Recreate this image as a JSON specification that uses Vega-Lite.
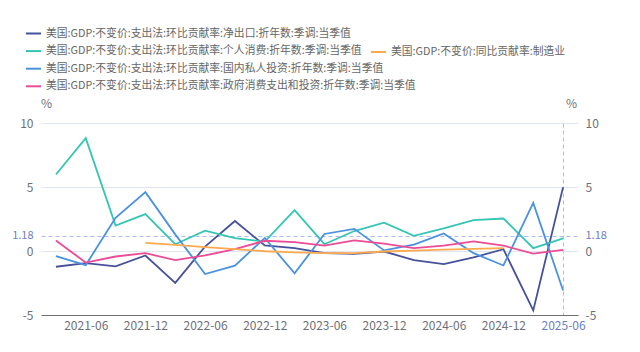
{
  "$schema": "https://vega.github.io/schema/vega-lite/v6.json",
  "width": 537,
  "height": 192,
  "autosize": "none",
  "padding": {"left": 41, "top": 123, "right": 62, "bottom": 37},
  "background": "white",
  "config": {
    "view": {"stroke": null},
    "font": "Noto Sans CJK SC",
    "axis": {"labelFont": "Noto Sans CJK SC", "titleFont": "Noto Sans CJK SC"},
    "legend": {"labelFont": "Noto Sans CJK SC"}
  },
  "data": {
    "values": [
      {"date": "2021-03", "series": "美国:GDP:不变价:支出法:环比贡献率:净出口:折年数:季调:当季值", "value": -1.23},
      {"date": "2021-06", "series": "美国:GDP:不变价:支出法:环比贡献率:净出口:折年数:季调:当季值", "value": -0.94},
      {"date": "2021-09", "series": "美国:GDP:不变价:支出法:环比贡献率:净出口:折年数:季调:当季值", "value": -1.2},
      {"date": "2021-12", "series": "美国:GDP:不变价:支出法:环比贡献率:净出口:折年数:季调:当季值", "value": -0.35},
      {"date": "2022-03", "series": "美国:GDP:不变价:支出法:环比贡献率:净出口:折年数:季调:当季值", "value": -2.49},
      {"date": "2022-06", "series": "美国:GDP:不变价:支出法:环比贡献率:净出口:折年数:季调:当季值", "value": 0.35},
      {"date": "2022-09", "series": "美国:GDP:不变价:支出法:环比贡献率:净出口:折年数:季调:当季值", "value": 2.34},
      {"date": "2022-12", "series": "美国:GDP:不变价:支出法:环比贡献率:净出口:折年数:季调:当季值", "value": 0.43},
      {"date": "2023-03", "series": "美国:GDP:不变价:支出法:环比贡献率:净出口:折年数:季调:当季值", "value": 0.22},
      {"date": "2023-06", "series": "美国:GDP:不变价:支出法:环比贡献率:净出口:折年数:季调:当季值", "value": -0.17},
      {"date": "2023-09", "series": "美国:GDP:不变价:支出法:环比贡献率:净出口:折年数:季调:当季值", "value": -0.22},
      {"date": "2023-12", "series": "美国:GDP:不变价:支出法:环比贡献率:净出口:折年数:季调:当季值", "value": -0.04},
      {"date": "2024-03", "series": "美国:GDP:不变价:支出法:环比贡献率:净出口:折年数:季调:当季值", "value": -0.71},
      {"date": "2024-06", "series": "美国:GDP:不变价:支出法:环比贡献率:净出口:折年数:季调:当季值", "value": -1.02},
      {"date": "2024-09", "series": "美国:GDP:不变价:支出法:环比贡献率:净出口:折年数:季调:当季值", "value": -0.5},
      {"date": "2024-12", "series": "美国:GDP:不变价:支出法:环比贡献率:净出口:折年数:季调:当季值", "value": 0.14},
      {"date": "2025-03", "series": "美国:GDP:不变价:支出法:环比贡献率:净出口:折年数:季调:当季值", "value": -4.64},
      {"date": "2025-06", "series": "美国:GDP:不变价:支出法:环比贡献率:净出口:折年数:季调:当季值", "value": 4.99},
      {"date": "2021-03", "series": "美国:GDP:不变价:支出法:环比贡献率:个人消费:折年数:季调:当季值", "value": 5.98},
      {"date": "2021-06", "series": "美国:GDP:不变价:支出法:环比贡献率:个人消费:折年数:季调:当季值", "value": 8.82},
      {"date": "2021-09", "series": "美国:GDP:不变价:支出法:环比贡献率:个人消费:折年数:季调:当季值", "value": 1.98},
      {"date": "2021-12", "series": "美国:GDP:不变价:支出法:环比贡献率:个人消费:折年数:季调:当季值", "value": 2.88},
      {"date": "2022-03", "series": "美国:GDP:不变价:支出法:环比贡献率:个人消费:折年数:季调:当季值", "value": 0.53},
      {"date": "2022-06", "series": "美国:GDP:不变价:支出法:环比贡献率:个人消费:折年数:季调:当季值", "value": 1.59},
      {"date": "2022-09", "series": "美国:GDP:不变价:支出法:环比贡献率:个人消费:折年数:季调:当季值", "value": 1.0},
      {"date": "2022-12", "series": "美国:GDP:不变价:支出法:环比贡献率:个人消费:折年数:季调:当季值", "value": 0.74},
      {"date": "2023-03", "series": "美国:GDP:不变价:支出法:环比贡献率:个人消费:折年数:季调:当季值", "value": 3.19},
      {"date": "2023-06", "series": "美国:GDP:不变价:支出法:环比贡献率:个人消费:折年数:季调:当季值", "value": 0.53},
      {"date": "2023-09", "series": "美国:GDP:不变价:支出法:环比贡献率:个人消费:折年数:季调:当季值", "value": 1.56},
      {"date": "2023-12", "series": "美国:GDP:不变价:支出法:环比贡献率:个人消费:折年数:季调:当季值", "value": 2.21},
      {"date": "2024-03", "series": "美国:GDP:不变价:支出法:环比贡献率:个人消费:折年数:季调:当季值", "value": 1.18},
      {"date": "2024-06", "series": "美国:GDP:不变价:支出法:环比贡献率:个人消费:折年数:季调:当季值", "value": 1.77},
      {"date": "2024-09", "series": "美国:GDP:不变价:支出法:环比贡献率:个人消费:折年数:季调:当季值", "value": 2.42},
      {"date": "2024-12", "series": "美国:GDP:不变价:支出法:环比贡献率:个人消费:折年数:季调:当季值", "value": 2.54},
      {"date": "2025-03", "series": "美国:GDP:不变价:支出法:环比贡献率:个人消费:折年数:季调:当季值", "value": 0.22},
      {"date": "2025-06", "series": "美国:GDP:不变价:支出法:环比贡献率:个人消费:折年数:季调:当季值", "value": 0.98},
      {"date": "2021-03", "series": "美国:GDP:不变价:支出法:环比贡献率:国内私人投资:折年数:季调:当季值", "value": -0.4},
      {"date": "2021-06", "series": "美国:GDP:不变价:支出法:环比贡献率:国内私人投资:折年数:季调:当季值", "value": -1.1},
      {"date": "2021-09", "series": "美国:GDP:不变价:支出法:环比贡献率:国内私人投资:折年数:季调:当季值", "value": 2.6},
      {"date": "2021-12", "series": "美国:GDP:不变价:支出法:环比贡献率:国内私人投资:折年数:季调:当季值", "value": 4.6},
      {"date": "2022-03", "series": "美国:GDP:不变价:支出法:环比贡献率:国内私人投资:折年数:季调:当季值", "value": 1.3},
      {"date": "2022-06", "series": "美国:GDP:不变价:支出法:环比贡献率:国内私人投资:折年数:季调:当季值", "value": -1.8},
      {"date": "2022-09", "series": "美国:GDP:不变价:支出法:环比贡献率:国内私人投资:折年数:季调:当季值", "value": -1.15},
      {"date": "2022-12", "series": "美国:GDP:不变价:支出法:环比贡献率:国内私人投资:折年数:季调:当季值", "value": 1.02},
      {"date": "2023-03", "series": "美国:GDP:不变价:支出法:环比贡献率:国内私人投资:折年数:季调:当季值", "value": -1.75},
      {"date": "2023-06", "series": "美国:GDP:不变价:支出法:环比贡献率:国内私人投资:折年数:季调:当季值", "value": 1.33},
      {"date": "2023-09", "series": "美国:GDP:不变价:支出法:环比贡献率:国内私人投资:折年数:季调:当季值", "value": 1.73},
      {"date": "2023-12", "series": "美国:GDP:不变价:支出法:环比贡献率:国内私人投资:折年数:季调:当季值", "value": 0.05},
      {"date": "2024-03", "series": "美国:GDP:不变价:支出法:环比贡献率:国内私人投资:折年数:季调:当季值", "value": 0.5},
      {"date": "2024-06", "series": "美国:GDP:不变价:支出法:环比贡献率:国内私人投资:折年数:季调:当季值", "value": 1.37},
      {"date": "2024-09", "series": "美国:GDP:不变价:支出法:环比贡献率:国内私人投资:折年数:季调:当季值", "value": -0.17},
      {"date": "2024-12", "series": "美国:GDP:不变价:支出法:环比贡献率:国内私人投资:折年数:季调:当季值", "value": -1.13},
      {"date": "2025-03", "series": "美国:GDP:不变价:支出法:环比贡献率:国内私人投资:折年数:季调:当季值", "value": 3.76},
      {"date": "2025-06", "series": "美国:GDP:不变价:支出法:环比贡献率:国内私人投资:折年数:季调:当季值", "value": -3.09},
      {"date": "2021-03", "series": "美国:GDP:不变价:支出法:环比贡献率:政府消费支出和投资:折年数:季调:当季值", "value": 0.82},
      {"date": "2021-06", "series": "美国:GDP:不变价:支出法:环比贡献率:政府消费支出和投资:折年数:季调:当季值", "value": -0.9},
      {"date": "2021-09", "series": "美国:GDP:不变价:支出法:环比贡献率:政府消费支出和投资:折年数:季调:当季值", "value": -0.43},
      {"date": "2021-12", "series": "美国:GDP:不变价:支出法:环比贡献率:政府消费支出和投资:折年数:季调:当季值", "value": -0.17},
      {"date": "2022-03", "series": "美国:GDP:不变价:支出法:环比贡献率:政府消费支出和投资:折年数:季调:当季值", "value": -0.71},
      {"date": "2022-06", "series": "美国:GDP:不变价:支出法:环比贡献率:政府消费支出和投资:折年数:季调:当季值", "value": -0.35},
      {"date": "2022-09", "series": "美国:GDP:不变价:支出法:环比贡献率:政府消费支出和投资:折年数:季调:当季值", "value": 0.14},
      {"date": "2022-12", "series": "美国:GDP:不变价:支出法:环比贡献率:政府消费支出和投资:折年数:季调:当季值", "value": 0.8},
      {"date": "2023-03", "series": "美国:GDP:不变价:支出法:环比贡献率:政府消费支出和投资:折年数:季调:当季值", "value": 0.7},
      {"date": "2023-06", "series": "美国:GDP:不变价:支出法:环比贡献率:政府消费支出和投资:折年数:季调:当季值", "value": 0.42},
      {"date": "2023-09", "series": "美国:GDP:不变价:支出法:环比贡献率:政府消费支出和投资:折年数:季调:当季值", "value": 0.83},
      {"date": "2023-12", "series": "美国:GDP:不变价:支出法:环比贡献率:政府消费支出和投资:折年数:季调:当季值", "value": 0.57},
      {"date": "2024-03", "series": "美国:GDP:不变价:支出法:环比贡献率:政府消费支出和投资:折年数:季调:当季值", "value": 0.23},
      {"date": "2024-06", "series": "美国:GDP:不变价:支出法:环比贡献率:政府消费支出和投资:折年数:季调:当季值", "value": 0.42},
      {"date": "2024-09", "series": "美国:GDP:不变价:支出法:环比贡献率:政府消费支出和投资:折年数:季调:当季值", "value": 0.75},
      {"date": "2024-12", "series": "美国:GDP:不变价:支出法:环比贡献率:政府消费支出和投资:折年数:季调:当季值", "value": 0.42},
      {"date": "2025-03", "series": "美国:GDP:不变价:支出法:环比贡献率:政府消费支出和投资:折年数:季调:当季值", "value": -0.2},
      {"date": "2025-06", "series": "美国:GDP:不变价:支出法:环比贡献率:政府消费支出和投资:折年数:季调:当季值", "value": 0.08},
      {"date": "2021-12", "series": "美国:GDP:不变价:同比贡献率:制造业", "value": 0.64},
      {"date": "2022-03", "series": "美国:GDP:不变价:同比贡献率:制造业", "value": 0.48},
      {"date": "2022-06", "series": "美国:GDP:不变价:同比贡献率:制造业", "value": 0.3},
      {"date": "2022-09", "series": "美国:GDP:不变价:同比贡献率:制造业", "value": 0.15},
      {"date": "2022-12", "series": "美国:GDP:不变价:同比贡献率:制造业", "value": -0.02},
      {"date": "2023-03", "series": "美国:GDP:不变价:同比贡献率:制造业", "value": -0.1},
      {"date": "2023-06", "series": "美国:GDP:不变价:同比贡献率:制造业", "value": -0.17},
      {"date": "2023-09", "series": "美国:GDP:不变价:同比贡献率:制造业", "value": -0.17},
      {"date": "2023-12", "series": "美国:GDP:不变价:同比贡献率:制造业", "value": -0.04},
      {"date": "2024-03", "series": "美国:GDP:不变价:同比贡献率:制造业", "value": 0.03},
      {"date": "2024-06", "series": "美国:GDP:不变价:同比贡献率:制造业", "value": 0.1},
      {"date": "2024-09", "series": "美国:GDP:不变价:同比贡献率:制造业", "value": 0.16},
      {"date": "2024-12", "series": "美国:GDP:不变价:同比贡献率:制造业", "value": 0.22}
    ]
  },
  "encoding": {
    "x": {
      "field": "date",
      "type": "ordinal",
      "sort": null,
      "scale": {"domain": ["2021-03","2021-06","2021-09","2021-12","2022-03","2022-06","2022-09","2022-12","2023-03","2023-06","2023-09","2023-12","2024-03","2024-06","2024-09","2024-12","2025-03","2025-06"]},
      "axis": {
        "title": null,
        "labelAngle": 0,
        "labelExpr": "(indexof(datum.value, '-06') > 0 || indexof(datum.value, '-12') > 0) ? datum.value : ''",
        "labelOverlap": false,
        "labelFontSize": 12,
        "labelPadding": 5,
        "labelColor": {"condition": {"test": "datum.value === '2025-06'", "value": "#6a7ec8"}, "value": "#6E7079"},
        "ticks": false,
        "domain": true,
        "domainColor": "#6E7079",
        "grid": true,
        "gridColor": {"condition": {"test": "datum.value === '2025-06'", "value": "#aabdf3"}, "value": "transparent"},
        "gridDash": [4, 3]
      }
    }
  },
  "layer": [
    {
      "transform": [{"filter": "datum.series !== '美国:GDP:不变价:同比贡献率:制造业'"}],
      "mark": {"type": "line", "strokeWidth": 1.8},
      "encoding": {
        "y": {
          "field": "value",
          "type": "quantitative",
          "scale": {"domain": [-5, 10], "nice": false, "zero": false},
          "axis": {
            "values": [-5, 0, 5, 10, 1.18],
            "labelExpr": "datum.value === 1.18 ? '1.18' : '' + datum.value",
            "title": "%",
            "titleAngle": 0,
            "titleX": 5,
            "titleY": -20,
            "titleAlign": "center",
            "titleBaseline": "middle",
            "titleFontWeight": "normal",
            "titleFontSize": 12,
            "titleColor": "#6E7079",
            "labelFontSize": {"condition": {"test": "datum.value === 1.18", "value": 11}, "value": 12},
            "labelPadding": 8,
            "labelColor": {"condition": {"test": "datum.value === 1.18", "value": "#6a7ec8"}, "value": "#6E7079"},
            "ticks": false,
            "domain": false,
            "grid": true,
            "gridColor": {"condition": {"test": "datum.value === 1.18", "value": "#aabdf3"}, "value": "#E0E6F1"},
            "gridDash": {"condition": {"test": "datum.value === 1.18", "value": [4, 3]}, "value": []}
          }
        },
        "color": {
          "field": "series",
          "type": "nominal",
          "scale": {
            "domain": [
              "美国:GDP:不变价:支出法:环比贡献率:净出口:折年数:季调:当季值",
              "美国:GDP:不变价:支出法:环比贡献率:个人消费:折年数:季调:当季值",
              "美国:GDP:不变价:支出法:环比贡献率:国内私人投资:折年数:季调:当季值",
              "美国:GDP:不变价:支出法:环比贡献率:政府消费支出和投资:折年数:季调:当季值"
            ],
            "range": ["#46519c", "#34c6b4", "#4a92e0", "#ec4b95"]
          },
          "legend": {
            "title": null,
            "orient": "none",
            "legendX": -16,
            "legendY": -98,
            "symbolType": "stroke",
            "symbolSize": 225,
            "symbolStrokeWidth": 2,
            "labelFontSize": 10.8,
            "labelColor": "#666666",
            "labelOffset": 4,
            "labelLimit": 500,
            "rowPadding": 3.6
          }
        }
      }
    },
    {
      "transform": [{"filter": "datum.series === '美国:GDP:不变价:同比贡献率:制造业'"}],
      "mark": {"type": "line", "strokeWidth": 1.8},
      "encoding": {
        "y": {
          "field": "value",
          "type": "quantitative",
          "scale": {"domain": [-5, 10], "nice": false, "zero": false},
          "axis": {
            "orient": "right",
            "values": [-5, 0, 5, 10, 1.18],
            "labelExpr": "datum.value === 1.18 ? '1.18' : '' + datum.value",
            "title": "%",
            "titleAngle": 0,
            "titleX": -7,
            "titleY": -20,
            "titleAlign": "center",
            "titleBaseline": "middle",
            "titleFontWeight": "normal",
            "titleFontSize": 12,
            "titleColor": "#6E7079",
            "labelFontSize": {"condition": {"test": "datum.value === 1.18", "value": 11}, "value": 12},
            "labelPadding": 7,
            "labelColor": {"condition": {"test": "datum.value === 1.18", "value": "#6a7ec8"}, "value": "#6E7079"},
            "ticks": false,
            "domain": false,
            "grid": false
          }
        },
        "stroke": {
          "field": "series",
          "type": "nominal",
          "scale": {"range": ["#fdaa4f"]},
          "legend": {
            "title": null,
            "orient": "none",
            "legendX": 329,
            "legendY": -79.5,
            "symbolType": "stroke",
            "symbolSize": 225,
            "symbolStrokeWidth": 2,
            "labelFontSize": 10.8,
            "labelColor": "#666666",
            "labelOffset": 4,
            "labelLimit": 500
          }
        }
      }
    }
  ],
  "resolve": {"scale": {"y": "independent"}}
}
